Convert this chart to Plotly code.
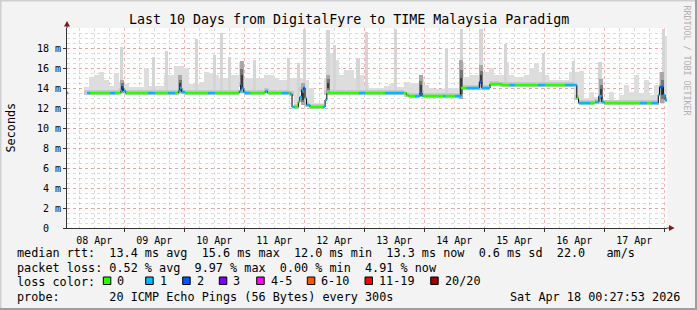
import bisect
import numpy as np
import pandas as pd
import plotly.graph_objects as go

START = pd.Timestamp("2026-04-08 00:00:00")
VIEW_FROM_H = 1.08
VIEW_TO_H = 241.08

# ---------------- data (hours after 08 Apr 00:00, values in ms) ----------------
median_hours = [1.0, 1.6, 9.2, 10.3, 18.3, 20.3, 22.6, 23.2, 23.8, 24.6,
                33.6, 36.3, 41.6, 44.3, 45.6, 46.2, 47.0, 48.3, 57.6, 60.3,
                70.0, 70.6, 71.2, 71.8, 72.4, 74.3, 80.3, 81.3, 87.0, 89.6,
                90.4, 91.1, 92.0, 93.6, 94.2, 95.0, 95.6, 96.3, 96.9, 98.3,
                103.6, 104.3, 105.0, 118.0, 120.3, 128.3, 135.6, 136.8, 137.6, 140.3,
                142.3, 143.1, 143.6, 151.6, 152.3, 156.3, 158.6, 161.0, 166.0, 167.0,
                170.3, 175.0, 178.3, 180.3, 189.6, 192.3, 200.3, 205.0, 205.7, 210.3,
                212.3, 213.8, 215.0, 216.0, 230.3, 233.0, 235.0, 237.6, 238.1, 239.6,
                240.3]
median_ms = [13.5, None, 13.5, 13.5, 13.5, 13.5, 13.7, 14.0, 13.7, 13.5,
             13.5, 13.5, 13.5, 13.5, 13.7, 14.0, 13.6, 13.5, 13.5, 13.5,
             13.7, 14.3, 14.0, 13.6, 13.5, 13.5, 13.7, 13.5, 13.5, 13.5,
             13.4, 12.1, 12.1, 12.6, 13.1, 13.8, 14.0, 13.0, 12.3, 12.1,
             12.1, 12.8, 13.5, 13.5, 13.5, 13.5, 13.5, 13.3, 13.2, 13.2,
             13.5, 13.2, 13.2, 13.2, 13.2, 13.2, 14.0, 14.0, 14.6, 14.0,
             14.4, 14.3, 14.3, 14.3, 14.3, 14.3, 14.3, 13.0, 12.5, 12.5,
             12.6, 13.2, 12.6, 12.5, 12.5, 12.5, 12.5, 13.3, 14.1, 13.3,
             12.8]
median_loss = [1, 0, 1, 0, 1, 0, 1, 2, 1, 0,
               1, 0, 1, 0, 1, 1, 1, 0, 1, 0,
               1, 2, 1, 1, 1, 0, 1, 0, 1, 0,
               1, 1, 0, 0, 1, 1, 2, 1, 1, 0,
               1, 1, 0, 1, 0, 1, 0, 0, 0, 1,
               2, 1, 0, 1, 0, 1, 0, 1, 2, 1,
               0, 0, 1, 0, 1, 0, 1, 0, 1, 0,
               1, 1, 1, 0, 1, 0, 1, 1, 2, 1,
               1]
median_end_hour = 241.1

smoke_first_hour = 8
smoke_bin_hours = 2
smoke_top_ms = [14.1, 15.1, 15.3, 15.6, 14.8, 14.2, 15.5, 14.6, 14.4, 14.1,
                14.1, 14.1, 16.0, 14.2, 14.2, 14.2, 15.3, 15.3, 16.2, 16.2,
                16.0, 14.4, 14.4, 14.6, 15.6, 15.5, 15.3, 15.0, 15.0, 15.3,
                15.3, 16.6, 15.0, 15.0, 15.0, 15.0, 15.3, 15.3, 15.0, 14.8,
                14.8, 15.0, 15.0, 15.0, 14.8, 14.0, 12.5, 12.5, 15.0, 17.5,
                16.8, 15.3, 15.8, 15.8, 15.0, 15.3, 14.3, 14.0, 14.0, 14.0,
                14.2, 14.4, 14.1, 14.1, 14.6, 14.5, 14.5, 15.1, 14.3, 14.0,
                13.9, 13.9, 14.0, 14.0, 14.0, 16.6, 15.1, 15.3, 15.3, 15.6,
                15.6, 16.0, 15.3, 15.3, 16.6, 15.3, 15.1, 15.1, 15.3, 16.0,
                16.5, 15.6, 15.3, 14.8, 14.8, 14.8, 14.8, 15.6, 15.6, 15.7,
                13.0, 13.6, 13.1, 13.0, 12.8, 13.6, 12.8, 13.3, 14.3, 13.6,
                15.3, 13.5, 14.8, 13.3, 14.3, 15.6, 19.2]

spike_hours = [23.0, 35.8, 41.0, 53.0, 60.0, 63.0, 66.0, 76.0, 89.6, 93.7, 96.0,
               105.5, 108.0, 117.5, 121.0, 132.6, 153.0, 159.0, 166.7, 176.5, 191.6,
               203.6, 214.3, 239.6]
spike_top_ms = [18.1, 17.1, 17.7, 18.9, 17.3, 19.5, 17.1, 16.8, 17.0, 16.5, 19.9,
                19.8, 18.3, 17.0, 19.6, 19.9, 18.0, 19.9, 19.9, 18.4, 17.4,
                16.7, 16.6, 19.9]

dark_hours = [23.2, 46.3, 71.0, 95.3, 105.5, 142.6, 158.7, 166.8, 214.8, 239.2]
dark_low_ms = [13.5, 13.5, 13.5, 12.3, 13.6, 13.1, 12.9, 14.1, 12.6, 12.5]
dark_high_ms = [14.8, 15.3, 16.7, 14.5, 15.3, 15.3, 16.8, 16.3, 14.9, 15.6]

loss_labels = ["0", "1", "2", "3", "4-5", "6-10", "11-19", "20/20"]
loss_colors = ["#26ff00", "#00b8ff", "#0059ff", "#7e00ff", "#ff00ff", "#ff5500", "#ff0000", "#a10000"]
loss_upper = [0, 1, 2, 3, 5, 10, 19, 20]

y_tick_values = [0, 2, 4, 6, 8, 10, 12, 14, 16, 18]
y_tick_text = ["0\u00a0\u00a0", "2 m", "4 m", "6 m", "8 m", "10 m", "12 m", "14 m", "16 m", "18 m"]

title_text = "Last 10 Days from DigitalFyre to TIME Malaysia Paradigm"
legend_row1 = "median rtt:  13.4 ms avg  15.6 ms max  12.0 ms min  13.3 ms now  0.6 ms sd  22.0   am/s"
legend_row2 = "packet loss: 0.52 % avg  9.97 % max  0.00 % min  4.91 % now"
legend_row3 = "loss color:"
legend_row4 = "probe:       20 ICMP Echo Pings (56 Bytes) every 300s"
stamp_text = "Sat Apr 18 00:27:53 2026"
watermark = "RRDTOOL / TOBI OETIKER"

# ---------------- helpers ----------------
W, H = 697, 310
PL, PR, PT, PB = 67, 667, 28, 228
FONT = "DejaVu Sans Mono"
HOUR_MS = 3600e3


def px_x(px):
    return (px - PL) / (PR - PL)


def px_y(py):
    return (PB - py) / (PB - PT)


def t(h):
    return START + pd.Timedelta(hours=float(h))


def median_at(h):
    i = max(bisect.bisect_right(median_hours, h) - 1, 0)
    while median_ms[i] is None:
        i += 1
    return median_ms[i]


def loss_class(n):
    for j, u in enumerate(loss_upper):
        if n <= u:
            return j
    return len(loss_upper) - 1


nb = lambda s: s.replace(" ", "\u00a0")

fig = go.Figure()


def add_bars(hours, lows, highs, width_h, color):
    fig.add_trace(go.Bar(x=[t(h) for h in hours], base=list(lows),
                         y=[hi - lo for hi, lo in zip(highs, lows)],
                         width=width_h * HOUR_MS, marker=dict(color=color, line_width=0),
                         hoverinfo="skip"))


# light smoke
bin_h = [smoke_first_hour + smoke_bin_hours * (k + 0.5) for k in range(len(smoke_top_ms))]
bases = [median_at(h) - 0.15 for h in bin_h]
add_bars(bin_h, bases, smoke_top_ms, smoke_bin_hours, "#dddddd")
# spikes
sb = [median_at(h) - 0.1 for h in spike_hours]
add_bars(spike_hours, sb, spike_top_ms, 1.3, "#d5d5d5")
# near-median band
add_bars(bin_h, bases, [b + 0.5 for b in bases], smoke_bin_hours, "#c9c9c9")
# dense smoke (graded)
add_bars(dark_hours, dark_low_ms, dark_high_ms, 1.6, "#a9a9a9")
mid_lo = [lo + 0.12 * (hi - lo) for lo, hi in zip(dark_low_ms, dark_high_ms)]
mid_hi = [lo + 0.75 * (hi - lo) for lo, hi in zip(dark_low_ms, dark_high_ms)]
add_bars(dark_hours, mid_lo, mid_hi, 1.2, "#777777")
in_lo = [lo + 0.25 * (hi - lo) for lo, hi in zip(dark_low_ms, dark_high_ms)]
in_hi = [lo + 0.55 * (hi - lo) for lo, hi in zip(dark_low_ms, dark_high_ms)]
add_bars(dark_hours, in_lo, in_hi, 0.8, "#3a3a3a")

# black step line of the median
fig.add_trace(go.Scatter(x=[t(h) for h in median_hours + [median_end_hour]],
                         y=median_ms + [median_ms[-1]], mode="lines",
                         line=dict(color="#000000", width=1, shape="hv"), connectgaps=False,
                         hoverinfo="skip"))

# coloured median segments by loss
for j, col in enumerate(loss_colors):
    xs, ys = [], []
    for i, v in enumerate(median_ms):
        if v is None or loss_class(median_loss[i]) != j:
            continue
        h0 = median_hours[i]
        h1 = median_hours[i + 1] if i + 1 < len(median_hours) else median_end_hour
        xs += [t(h0), t(h1), None]
        ys += [v, v, None]
    if xs:
        fig.add_trace(go.Scatter(x=xs, y=ys, mode="lines", line=dict(color=col, width=2.6),
                                 hoverinfo="skip"))

grid_major = "rgba(235,120,120,0.55)"
grid_minor = "rgba(150,150,150,0.35)"

fig.update_layout(
    width=W, height=H, autosize=False,
    margin=dict(l=PL, r=W - PR, t=PT, b=H - PB),
    paper_bgcolor="#f3f3f3", plot_bgcolor="#ffffff",
    showlegend=False, barmode="overlay", bargap=0,
    font=dict(family=FONT, size=10, color="#000000"),
    xaxis=dict(type="date", range=[t(VIEW_FROM_H), t(VIEW_TO_H)],
               tick0="2026-04-08", dtick=86400000, ticklabelmode="period",
               tickformat="%d %b", ticks="outside", ticklen=3, tickcolor="#333333",
               showgrid=True, gridcolor=grid_major, griddash="dot", gridwidth=1,
               minor=dict(dtick=6 * 3600000, showgrid=True, gridcolor=grid_minor,
                          griddash="dot", ticks=""),
               showline=True, linecolor="#333333", linewidth=1, zeroline=False,
               tickfont=dict(family=FONT, size=10)),
    yaxis=dict(range=[0, 20], tickvals=y_tick_values, ticktext=y_tick_text,
               ticks="outside", ticklen=3, tickcolor="#333333",
               showgrid=True, gridcolor=grid_major, griddash="dot", gridwidth=1,
               minor=dict(dtick=0.5, showgrid=True, gridcolor=grid_minor, griddash="dot", ticks=""),
               showline=True, linecolor="#333333", linewidth=1, zeroline=False,
               tickfont=dict(family=FONT, size=10)),
)

shapes = []
# axis extensions and arrows
shapes.append(dict(type="line", xref="paper", yref="paper", x0=0, x1=0, y0=1, y1=px_y(23),
                   line=dict(color="#333333", width=1)))
shapes.append(dict(type="path", xref="paper", yref="paper",
                   path=f"M {px_x(64)} {px_y(26.5)} L {px_x(70)} {px_y(26.5)} L {px_x(67)} {px_y(21)} Z",
                   fillcolor="#8b1111", line=dict(width=0)))
shapes.append(dict(type="line", xref="paper", yref="paper", x0=1, x1=px_x(670), y0=0, y1=0,
                   line=dict(color="#333333", width=1)))
shapes.append(dict(type="path", xref="paper", yref="paper",
                   path=f"M {px_x(669)} {px_y(225)} L {px_x(669)} {px_y(231)} L {px_x(674.5)} {px_y(228)} Z",
                   fillcolor="#8b1111", line=dict(width=0)))
# frame shading
shapes.append(dict(type="line", xref="paper", yref="paper", x0=px_x(0), x1=px_x(W), y0=px_y(0.5), y1=px_y(0.5),
                   line=dict(color="#cfcfcf", width=2)))
shapes.append(dict(type="line", xref="paper", yref="paper", x0=px_x(0.5), x1=px_x(0.5), y0=px_y(0), y1=px_y(H),
                   line=dict(color="#cfcfcf", width=2)))
shapes.append(dict(type="line", xref="paper", yref="paper", x0=px_x(0), x1=px_x(W), y0=px_y(H - 1), y1=px_y(H - 1),
                   line=dict(color="#9e9e9e", width=2)))
shapes.append(dict(type="line", xref="paper", yref="paper", x0=px_x(W - 1), x1=px_x(W - 1), y0=px_y(0), y1=px_y(H),
                   line=dict(color="#9e9e9e", width=2)))

# loss colour swatches
swatch_px = [103.3, 145.7, 182.7, 219.3, 256.7, 307.3, 365.0, 430.7]
annotations = []
for xpx, col, lab in zip(swatch_px, loss_colors, loss_labels):
    shapes.append(dict(type="rect", xref="paper", yref="paper",
                       x0=px_x(xpx), x1=px_x(xpx + 7.5), y0=px_y(284.5), y1=px_y(277),
                       fillcolor=col, line=dict(color="#000000", width=1)))
    annotations.append(dict(xref="paper", yref="paper", x=px_x(xpx + 12.0), y=px_y(281.2),
                            text=nb(lab), showarrow=False, xanchor="left", yanchor="middle",
                            font=dict(family=FONT, size=11.8)))

annotations += [
    dict(xref="paper", yref="paper", x=px_x(348.5), y=px_y(19.3), text=nb(title_text), showarrow=False,
         xanchor="center", yanchor="middle", font=dict(family=FONT, size=13.3)),
    dict(xref="paper", yref="paper", x=px_x(10.5), y=px_y(128), text="Seconds", showarrow=False,
         textangle=-90, xanchor="center", yanchor="middle", font=dict(family=FONT, size=11.8)),
    dict(xref="paper", yref="paper", x=px_x(686.5), y=px_y(60), text=nb(watermark), showarrow=False,
         textangle=90, xanchor="center", yanchor="middle", font=dict(family=FONT, size=8.3, color="#b0b0b0")),
]
for row, ypx in [(legend_row1, 253.3), (legend_row2, 268.3), (legend_row3, 281.5), (legend_row4, 296.5)]:
    annotations.append(dict(xref="paper", yref="paper", x=px_x(15), y=px_y(ypx), text=nb(row),
                            showarrow=False, xanchor="left", yanchor="middle",
                            font=dict(family=FONT, size=11.8)))
annotations.append(dict(xref="paper", yref="paper", x=px_x(682), y=px_y(296.5), text=nb(stamp_text),
                        showarrow=False, xanchor="right", yanchor="middle", font=dict(family=FONT, size=11.8)))

fig.update_layout(shapes=shapes, annotations=annotations)
fig.write_html("out.html")
